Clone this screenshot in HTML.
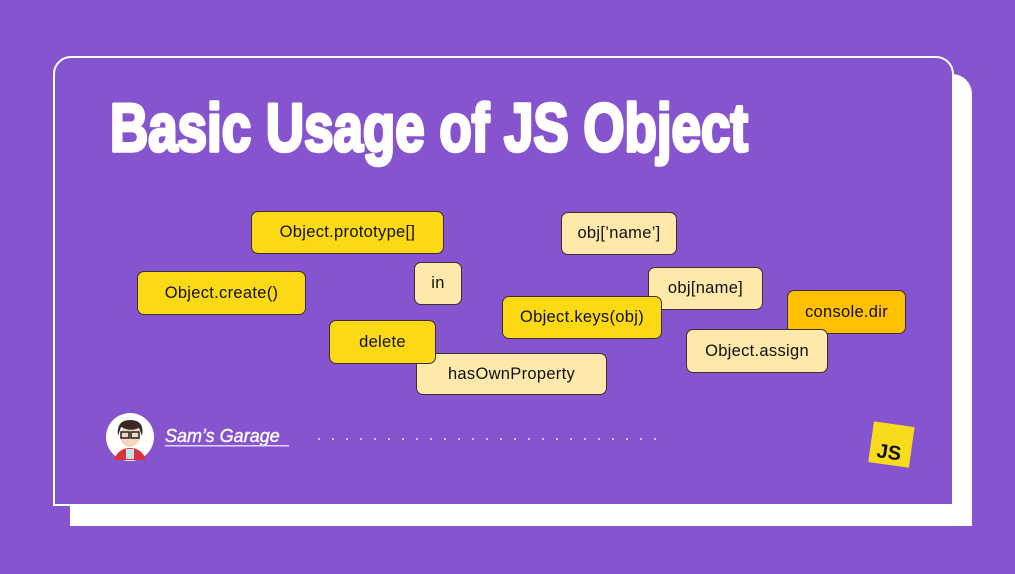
<!DOCTYPE html>
<html><head><meta charset="utf-8"><style>
*{margin:0;padding:0;box-sizing:border-box}
body{width:1015px;height:574px;background:#8654CF;position:relative;overflow:hidden;font-family:"Liberation Sans",sans-serif}
.shadow{position:absolute;left:70px;top:74px;width:902px;height:452px;background:#fff;border-radius:0 20px 0 0}
.panel{position:absolute;left:53px;top:56px;width:901px;height:450px;background:#8654CF;border:2px solid #fff;border-radius:18px 18px 0 0}
.b{position:absolute;border:1.3px solid #3a3030;border-radius:7px;font-size:16.5px;color:#111;display:flex;align-items:center;justify-content:center;letter-spacing:0.3px}
.y{background:#FBD914}.l{background:#FEE8AA}.o{background:#FFC000}
</style></head><body>
<div class="shadow"></div>
<div class="panel"></div>
<svg style="position:absolute;left:0;top:0" width="1015" height="574">
<text x="110" y="151" font-family="Liberation Sans" font-weight="bold" font-size="68" fill="#fff" stroke="#fff" stroke-width="3.5" stroke-linejoin="round" textLength="638" lengthAdjust="spacingAndGlyphs">Basic Usage of JS Object</text>
<g fill="#e9def7">
<circle cx="319" cy="439" r="1"/><circle cx="333" cy="439" r="1"/><circle cx="347" cy="439" r="1"/><circle cx="361" cy="439" r="1"/><circle cx="375" cy="439" r="1"/><circle cx="389" cy="439" r="1"/><circle cx="403" cy="439" r="1"/><circle cx="417" cy="439" r="1"/><circle cx="431" cy="439" r="1"/><circle cx="445" cy="439" r="1"/><circle cx="459" cy="439" r="1"/><circle cx="473" cy="439" r="1"/><circle cx="487" cy="439" r="1"/><circle cx="501" cy="439" r="1"/><circle cx="515" cy="439" r="1"/><circle cx="529" cy="439" r="1"/><circle cx="543" cy="439" r="1"/><circle cx="557" cy="439" r="1"/><circle cx="571" cy="439" r="1"/><circle cx="585" cy="439" r="1"/><circle cx="599" cy="439" r="1"/><circle cx="613" cy="439" r="1"/><circle cx="627" cy="439" r="1"/><circle cx="641" cy="439" r="1"/><circle cx="655" cy="439" r="1"/>
</g>
<circle cx="130" cy="437" r="24" fill="#fff"/>
<path d="M114 460 Q118 448 130 448 Q142 448 146 460 Z" fill="#d8323a"/>
<rect x="126" y="449" width="8" height="10" fill="#bfe3ef"/>
<ellipse cx="130" cy="436" rx="10" ry="11" fill="#f6d5be"/>
<path d="M118 436 Q116 420 130 420 Q145 420 142 436 L139 428 Q130 432 121 427 Z" fill="#3a2a24"/>
<rect x="121" y="432" width="8" height="6" fill="none" stroke="#222" stroke-width="1.5"/>
<rect x="131" y="432" width="8" height="6" fill="none" stroke="#222" stroke-width="1.5"/>
<text x="165" y="442" font-family="Liberation Sans" font-style="italic" font-size="18" fill="#fff" stroke="#fff" stroke-width="0.4">Sam’s Garage</text>
<rect x="165" y="445" width="124" height="1.5" fill="#e3d6f5"/>
<g transform="rotate(8 891 444)">
<rect x="871" y="424" width="41" height="41" fill="#F7DC1E"/>
<text x="878" y="459" font-family="Liberation Sans" font-weight="bold" font-size="20" fill="#111">JS</text>
</g>
</svg>
<div class="b y" style="left:251px;top:211px;width:193px;height:43px">Object.prototype[]</div>
<div class="b y" style="left:137px;top:271px;width:169px;height:44px">Object.create()</div>
<div class="b l" style="left:414px;top:262px;width:48px;height:43px">in</div>
<div class="b l" style="left:416px;top:353px;width:191px;height:42px">hasOwnProperty</div>
<div class="b y" style="left:329px;top:320px;width:107px;height:44px">delete</div>
<div class="b l" style="left:561px;top:212px;width:116px;height:43px">obj[’name’]</div>
<div class="b l" style="left:648px;top:267px;width:115px;height:43px">obj[name]</div>
<div class="b y" style="left:502px;top:296px;width:160px;height:43px">Object.keys(obj)</div>
<div class="b o" style="left:787px;top:290px;width:119px;height:44px">console.dir</div>
<div class="b l" style="left:686px;top:329px;width:142px;height:44px">Object.assign</div>
</body></html>
